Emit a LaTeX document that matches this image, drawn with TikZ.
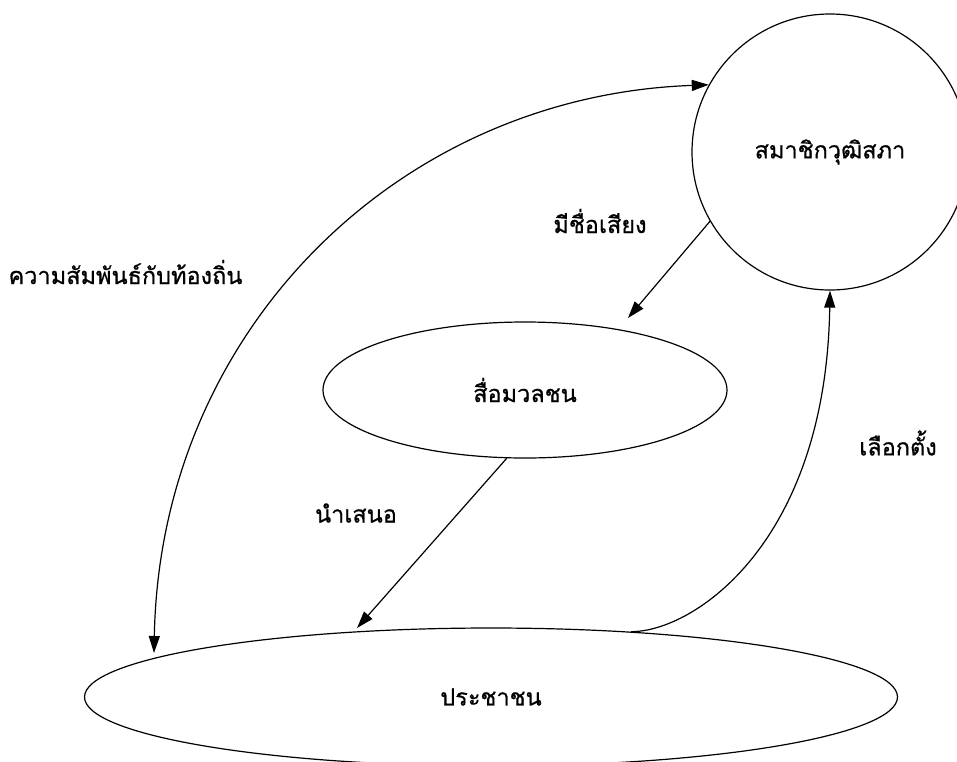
\documentclass[tikz,border=0pt]{standalone}
\usepackage{fontspec}
\newfontfamily\thaifont[Script=Thai,FakeBold=0.8]{Loma}
\usetikzlibrary{arrows.meta,shapes.geometric}
\begin{document}
\begin{tikzpicture}[x=1pt,y=-1pt,
  line width=1.2pt,
  tip/.style={-{Triangle[length=17pt,width=11pt]}},
  bitip/.style={{Triangle[length=17pt,width=11pt]}-{Triangle[length=17pt,width=11pt]}},
  lbl/.style={font=\thaifont\fontsize{23.5}{28}\selectfont, inner sep=0pt},
  ]
\useasboundingbox (0,0) rectangle (957,761);
\fill[white] (0,0) rectangle (957,761);
% nodes
\node[draw, circle, minimum size=276pt, inner sep=0pt, lbl] (senate) at (830,152) {สมาชิกวุฒิสภา};
\node[draw, ellipse, minimum width=404pt, minimum height=136pt, inner sep=0pt, lbl] (media) at (525,390) {สื่อมวลชน};
\node[draw, ellipse, minimum width=813pt, minimum height=138pt, inner sep=0pt, lbl] (people) at (491,697) {ประชาชน};
% free ends
\coordinate (mediaTip) at (628,318);
\coordinate (peopleTip) at (357,628);
\coordinate (localTip) at (154,653);
% connectors
\draw[tip] (senate.210) -- (mediaTip);
\draw[tip] (media.255) -- (peopleTip);
\draw[tip] (people.25.9) .. controls +(63,0) and +(-4,252) .. (senate.south);
\draw[bitip] (localTip) .. controls +(6,-323) and +(-310,11) .. (senate.151);
% labels
\node[lbl] (lFame) at (600,221) {มีชื่อเสียง};
\node[lbl, anchor=west] (lLocal) at (8,272) {ความสัมพันธ์กับท้องถิ่น};
\node[lbl] (lElect) at (898,443) {เลือกตั้ง};
\node[lbl] (lPresent) at (356,513) {นำเสนอ};
\end{tikzpicture}
\end{document}
